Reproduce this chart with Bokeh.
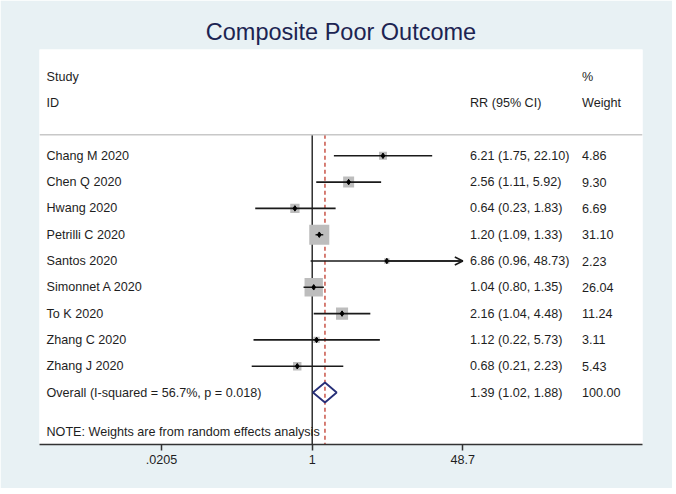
import math
from bokeh.plotting import figure
from bokeh.models import (Range1d, LinearScale, FixedTicker, Span, Arrow, OpenHead,
                          ColumnDataSource)
from bokeh.core.properties import value
from bokeh.embed import file_html
from bokeh.resources import INLINE

# ---------------- data ----------------
studies = ["Chang M 2020", "Chen Q 2020", "Hwang 2020", "Petrilli C 2020", "Santos 2020",
           "Simonnet A 2020", "To K 2020", "Zhang C 2020", "Zhang J 2020"]
rr = [6.21, 2.56, 0.64, 1.20, 6.86, 1.04, 2.16, 1.12, 0.68]
ci_lo = [1.75, 1.11, 0.23, 1.09, 0.96, 0.80, 1.04, 0.22, 0.21]
ci_hi = [22.10, 5.92, 1.83, 1.33, 48.73, 1.35, 4.48, 5.73, 2.23]
weights = [4.86, 9.30, 6.69, 31.10, 2.23, 26.04, 11.24, 3.11, 5.43]

overall_rr = 1.39
overall_lo = 1.02
overall_hi = 1.88
overall_weight = 100.00
i_squared = "56.7%"
p_value = "0.018"

x_ticks = [0.0205, 1, 48.7]
x_tick_labels = [".0205", "1", "48.7"]

title_text = "Composite Poor Outcome"
note_text = "NOTE: Weights are from random effects analysis"

# ---------------- styles ----------------
FONT = "Liberation Sans"
FS = "12.6px"
TXT = "#1e1e1e"
BG = "#E8F1F4"
NAVY = "#272F78"
RED = "#C0392B"

n = len(studies)
rows = list(range(n))
overall_row = n
note_row = n + 1.5
sep_row = -0.8
y_top, y_bottom = -4.042, 10.977

W, H = 672, 488
p = figure(width=W, height=H, output_backend="svg", toolbar_location=None,
           x_axis_type="log",
           x_range=Range1d(math.exp(-272.7 / 38.76), math.exp(330.3 / 38.76)),
           y_range=Range1d(y_bottom, y_top),
           min_border_left=39, min_border_right=30, min_border_top=49, min_border_bottom=44)
p.extra_x_ranges = {"px": Range1d(0, 603)}
p.extra_x_scales = {"px": LinearScale()}

p.background_fill_color = "white"
p.border_fill_color = BG
p.outline_line_color = None
p.xgrid.visible = False
p.ygrid.visible = False
p.yaxis.visible = False

# title
p.title.text = title_text
p.title.align = "center"
p.title.text_font = FONT
p.title.text_font_size = "23.5px"
p.title.text_font_style = "normal"
p.title.text_color = "#1C2452"

# x axis
ax = p.xaxis[0]
ax.ticker = FixedTicker(ticks=x_ticks, minor_ticks=[])
ax.major_label_overrides = {t: l for t, l in zip(x_ticks, x_tick_labels)}
ax.axis_line_color = "#333333"
ax.axis_line_width = 1.5
ax.major_tick_line_color = "#333333"
ax.major_tick_line_width = 1.5
ax.major_tick_in = 0
ax.major_tick_out = 6
ax.minor_tick_line_color = None
ax.major_label_text_font = FONT
ax.major_label_text_font_size = FS
ax.major_label_text_color = TXT
ax.major_label_standoff = 4

# header separator
p.add_layout(Span(location=sep_row, dimension="width", line_color="#C8C8C8", line_width=1.5))

# null line and overall dashed line
p.segment(x0=[1], y0=[sep_row], x1=[1], y1=[y_bottom], line_color="#111111", line_width=1.3)
p.segment(x0=[overall_rr], y0=[sep_row], x1=[overall_rr], y1=[y_bottom],
          line_color=RED, line_width=1.3, line_dash="4 3")

axis_max = max(x_ticks)
axis_min = min(x_ticks)

# weight boxes
box_sizes = [3.6 * math.sqrt(w) for w in weights]
src = ColumnDataSource(dict(y=rows, rr=rr, lo=[max(v, axis_min) for v in ci_lo],
                            hi=[min(v, axis_max) for v in ci_hi], size=box_sizes))
p.scatter(x="rr", y="y", size="size", marker="square", source=src,
          fill_color="#BDBDBD", line_color=None)
# CI lines
p.segment(x0="lo", y0="y", x1="hi", y1="y", source=src, line_color="#1a1a1a", line_width=1.6)
# arrows for truncated CIs
for i in range(n):
    if ci_hi[i] > axis_max:
        p.add_layout(Arrow(end=OpenHead(size=8, line_color="#1a1a1a", line_width=1.5),
                           x_start=rr[i], y_start=rows[i], x_end=axis_max, y_end=rows[i],
                           line_color="#1a1a1a", line_width=1.6))
# point estimates
p.scatter(x="rr", y="y", size=5.5, marker="diamond", source=src,
          fill_color="black", line_color="black")

# overall diamond
dh = 0.38
p.patch(x=[overall_lo, overall_rr, overall_hi, overall_rr, overall_lo],
        y=[overall_row, overall_row - dh, overall_row, overall_row + dh, overall_row],
        fill_color=None, line_color=NAVY, line_width=1.8)

# ---------------- text columns ----------------
col_study, col_rr, col_w = 7, 430.5, 542.5
txt_kw = dict(x_range_name="px", text_font=value(FONT), text_font_size=FS,
              text_color=TXT, text_baseline="middle", text_align="left")

left_text = ["Study", "ID"] + studies + [f"Overall  (I-squared = {i_squared}, p = {p_value})", note_text]
left_y = [-3, -2] + rows + [overall_row, note_row]
p.text(x=[col_study] * len(left_text), y=left_y, text=left_text, **txt_kw)

rr_text = ["RR (95% CI)"] + [f"{a:.2f} ({b:.2f}, {c:.2f})" for a, b, c in zip(rr, ci_lo, ci_hi)] \
          + [f"{overall_rr:.2f} ({overall_lo:.2f}, {overall_hi:.2f})"]
rr_y = [-2] + rows + [overall_row]
p.text(x=[col_rr] * len(rr_text), y=rr_y, text=rr_text, **txt_kw)

w_text = ["%", "Weight"] + [f"{w:.2f}" for w in weights] + [f"{overall_weight:.2f}"]
w_y = [-3, -2] + rows + [overall_row]
p.text(x=[col_w] * len(w_text), y=w_y, text=w_text, **txt_kw)

open("out.html", "w").write(file_html(p, INLINE))
